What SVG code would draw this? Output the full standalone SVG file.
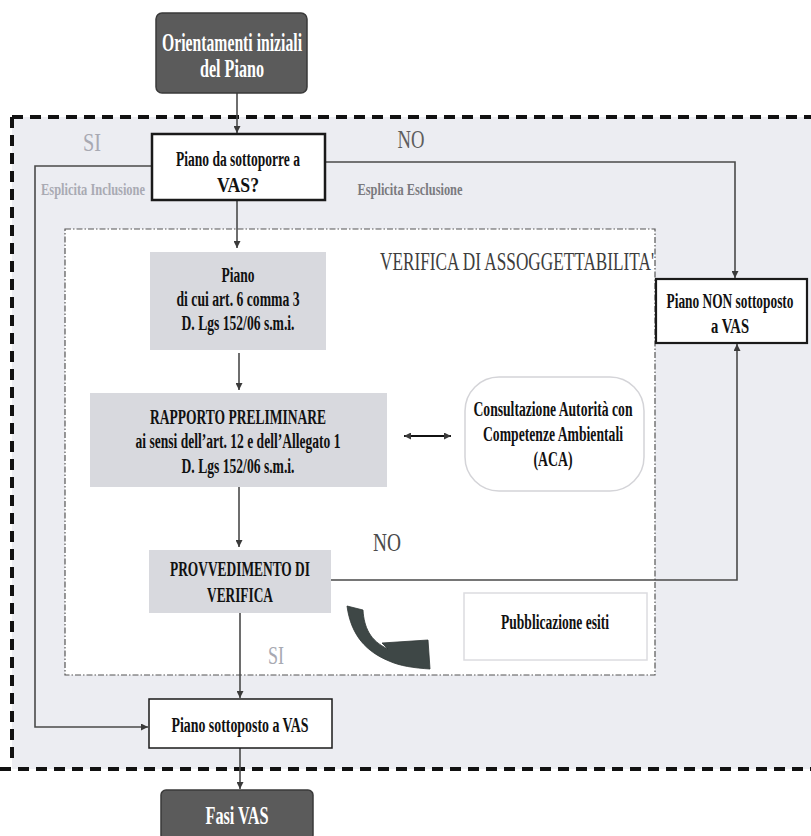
<svg xmlns="http://www.w3.org/2000/svg" width="811" height="836" viewBox="0 0 811 836">
<defs>
<style>
text{font-family:"Liberation Serif","Times New Roman",serif;font-weight:bold;text-anchor:middle;}
.w{fill:#ffffff;font-size:25px;}
.b{fill:#111111;font-size:20px;}
.lbl{font-weight:normal;font-size:26px;}
.dark{fill:#5b5b5b;stroke:#3a3a3a;stroke-width:1.5;}
.grey{fill:#d8d9de;}
.white{fill:#ffffff;stroke:#1a1a1a;}
.ln{fill:none;stroke:#4a4a4a;stroke-width:1.6;}
</style>
<marker id="ah" viewBox="0 0 10 10" refX="10" refY="5" markerWidth="7" markerHeight="7" orient="auto-start-reverse" markerUnits="userSpaceOnUse">
<path d="M0,0 L10,5 L0,10 Z" fill="#3a3a3a"/>
</marker>
</defs>
<rect x="0" y="0" width="811" height="836" fill="#ffffff"/>
<rect id="outer-area" x="12" y="117" width="799" height="652" fill="#ecedf2"/>
<path d="M12,117 H811 M12,117 V762 M0,769 H811" fill="none" stroke="#111" stroke-width="4" stroke-dasharray="11,7"/>
<rect id="verifica-box" x="65" y="229" width="590" height="446" fill="#ffffff" stroke="#555" stroke-width="1.2" stroke-dasharray="6,2,1.5,2"/>

<g id="connectors">
<path class="ln" d="M237,93 V133" marker-end="url(#ah)"/>
<path class="ln" d="M237,200 V248" marker-end="url(#ah)"/>
<path class="ln" d="M239,353 V390" marker-end="url(#ah)"/>
<path class="ln" d="M239,487 V547" marker-end="url(#ah)"/>
<path class="ln" d="M240,613 V698" marker-end="url(#ah)"/>
<path class="ln" d="M240,748 V789" marker-end="url(#ah)"/>
<path class="ln" d="M152,166 H35 V727 H148" marker-end="url(#ah)"/>
<path class="ln" d="M325,162 H735 V278" marker-end="url(#ah)"/>
<path class="ln" d="M331,580 H737 V344" marker-end="url(#ah)"/>
<path d="M404,436 H451" fill="none" stroke="#111" stroke-width="1.8" marker-start="url(#ah)" marker-end="url(#ah)"/>
<path id="swoosh" d="M347,606 L363,610 C364,627 370,641 388,649 L382,643 L428,640 L430,669 C414,668 400,666 389,661 C367,652 351,636 347,606 Z" fill="#3e4746" stroke="#2e3635" stroke-width="0.8" stroke-linejoin="round"/>
</g>

<g id="n-orientamenti">
<rect class="dark" x="156" y="13" width="151" height="80" rx="6"/>
<text class="w" x="232" y="51" textLength="140" lengthAdjust="spacingAndGlyphs">Orientamenti iniziali</text>
<text class="w" x="232" y="77" textLength="64" lengthAdjust="spacingAndGlyphs">del Piano</text>
</g>

<g id="n-piano-da-sottoporre">
<rect class="white" x="152" y="134" width="173" height="66" stroke-width="2.5"/>
<text class="b" x="238" y="166" textLength="124" lengthAdjust="spacingAndGlyphs">Piano da sottoporre a</text>
<text class="b" x="238" y="192" textLength="42" lengthAdjust="spacingAndGlyphs">VAS?</text>
</g>

<g id="labels-top">
<text class="lbl" x="92" y="151" fill="#a8a9b2" textLength="18" lengthAdjust="spacingAndGlyphs">SI</text>
<text class="lbl" x="411" y="148" fill="#5e5e5e" textLength="27" lengthAdjust="spacingAndGlyphs">NO</text>
<text x="93" y="195" fill="#a9aab3" font-size="16" textLength="104" lengthAdjust="spacingAndGlyphs">Esplicita Inclusione</text>
<text x="410" y="195" fill="#7a7a7e" font-size="16" textLength="105" lengthAdjust="spacingAndGlyphs">Esplicita Esclusione</text>
<text class="lbl" x="517" y="270" fill="#3d3d3d" font-size="27" textLength="274" lengthAdjust="spacingAndGlyphs">VERIFICA DI ASSOGGETTABILITA'</text>
<text class="lbl" x="387" y="551" fill="#4a4a4a" textLength="28" lengthAdjust="spacingAndGlyphs">NO</text>
<text class="lbl" x="276" y="664" fill="#a8a9b2" textLength="16" lengthAdjust="spacingAndGlyphs">SI</text>
</g>

<g id="n-piano-art6">
<rect class="grey" x="150" y="252" width="176" height="98"/>
<text class="b" x="238" y="282" textLength="33" lengthAdjust="spacingAndGlyphs">Piano</text>
<text class="b" x="238" y="306" textLength="123" lengthAdjust="spacingAndGlyphs">di cui art. 6 comma 3</text>
<text class="b" x="238" y="330" textLength="113" lengthAdjust="spacingAndGlyphs">D. Lgs 152/06 s.m.i.</text>
</g>

<g id="n-rapporto">
<rect class="grey" x="90" y="393" width="297" height="94"/>
<text class="b" x="238" y="424" textLength="176" lengthAdjust="spacingAndGlyphs">RAPPORTO PRELIMINARE</text>
<text class="b" x="238" y="448" textLength="205" lengthAdjust="spacingAndGlyphs">ai sensi dell’art. 12 e dell’Allegato 1</text>
<text class="b" x="238" y="473" textLength="113" lengthAdjust="spacingAndGlyphs">D. Lgs 152/06 s.m.i.</text>
</g>

<g id="n-aca">
<rect x="465" y="377" width="179" height="114" rx="34" fill="#ffffff" stroke="#d4d4d8" stroke-width="1.5"/>
<text class="b" x="553" y="416" textLength="159" lengthAdjust="spacingAndGlyphs">Consultazione Autorità con</text>
<text class="b" x="553" y="441" textLength="140" lengthAdjust="spacingAndGlyphs">Competenze Ambientali</text>
<text class="b" x="553" y="466" textLength="39" lengthAdjust="spacingAndGlyphs">(ACA)</text>
</g>

<g id="n-piano-non">
<rect class="white" x="656" y="279" width="151" height="64" stroke-width="2.2"/>
<text class="b" x="730" y="308" font-size="15" textLength="127" lengthAdjust="spacingAndGlyphs">Piano NON sottoposto</text>
<text class="b" x="730" y="333" textLength="38" lengthAdjust="spacingAndGlyphs">a VAS</text>
</g>

<g id="n-provvedimento">
<rect class="grey" x="149" y="550" width="182" height="63"/>
<text class="b" x="240" y="576" textLength="140" lengthAdjust="spacingAndGlyphs">PROVVEDIMENTO DI</text>
<text class="b" x="240" y="602" textLength="66" lengthAdjust="spacingAndGlyphs">VERIFICA</text>
</g>

<g id="n-pubblicazione">
<rect x="464" y="593" width="183" height="67" fill="#ffffff" stroke="#dcdce0" stroke-width="1.5"/>
<text class="b" x="555" y="629" textLength="108" lengthAdjust="spacingAndGlyphs">Pubblicazione esiti</text>
</g>

<g id="n-piano-sottoposto">
<rect class="white" x="149" y="699" width="183" height="49" stroke="#555" stroke-width="1.5"/>
<text class="b" x="240" y="732" textLength="137" lengthAdjust="spacingAndGlyphs">Piano sottoposto a VAS</text>
</g>

<g id="n-fasi-vas">
<rect class="dark" x="161" y="790" width="152" height="50" rx="5"/>
<text class="w" x="237" y="824" textLength="63" lengthAdjust="spacingAndGlyphs">Fasi VAS</text>
</g>
</svg>
